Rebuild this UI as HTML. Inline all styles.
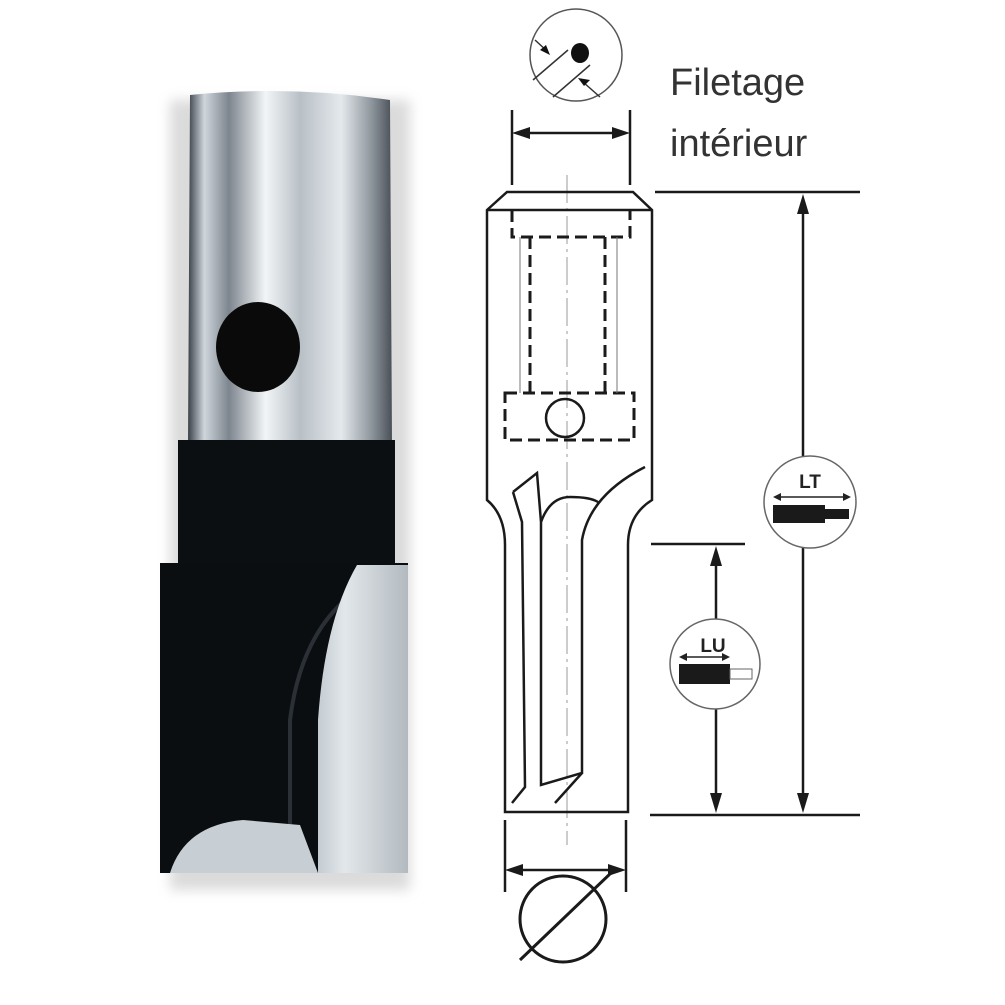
<!DOCTYPE html>
<html><head><style>
html,body{margin:0;padding:0;background:#fff;}
svg{display:block;}
</style></head><body>
<svg width="1005" height="1005" viewBox="0 0 1005 1005" xmlns="http://www.w3.org/2000/svg">
<defs>
<linearGradient id="sh" x1="0" x2="1" y1="0" y2="0">
<stop offset="0" stop-color="#3a4048"/><stop offset="0.08" stop-color="#cfd6dc"/><stop offset="0.2" stop-color="#7d858e"/><stop offset="0.38" stop-color="#f2f5f7"/><stop offset="0.55" stop-color="#b8c0c6"/><stop offset="0.75" stop-color="#e4e9ec"/><stop offset="0.9" stop-color="#8e969d"/><stop offset="1" stop-color="#4a5058"/>
</linearGradient>
<linearGradient id="bl" x1="0" x2="1" y1="0" y2="0">
<stop offset="0" stop-color="#c4ccd2"/><stop offset="0.3" stop-color="#e2e7ea"/><stop offset="1" stop-color="#b2bac0"/>
</linearGradient>
<filter id="blur"><feGaussianBlur stdDeviation="6"/></filter>
</defs>
<rect x="170" y="100" width="240" height="790" fill="#999" opacity="0.35" filter="url(#blur)"/>
<path d="M190 95 Q290 85 390 100 L392 445 L188 445 Z" fill="url(#sh)"/>
<ellipse cx="258" cy="347" rx="42" ry="45" fill="#0a0a0a"/>
<rect x="178" y="440" width="217" height="125" fill="#0c0f12"/>
<rect x="160" y="563" width="248" height="310" fill="#0b0e11"/>
<path d="M345 600 Q300 640 290 720 L290 873" stroke="#2a3036" stroke-width="4" fill="none"/>
<path d="M357 565 L408 565 L408 873 L318 873 L318 720 Q325 620 357 565 Z" fill="url(#bl)"/>
<path d="M170 873 Q185 825 243 820 L300 825 L318 873 Z" fill="#c7cfd5"/>
<line x1="567" y1="175" x2="567" y2="845" stroke="#999" stroke-width="1" stroke-dasharray="28 5 3 5"/>
<g stroke="#1a1a1a" fill="none" stroke-width="2.5">
<line x1="512" y1="110" x2="512" y2="185"/><line x1="630" y1="110" x2="630" y2="185"/>
<line x1="520" y1="133" x2="622" y2="133"/>
<path d="M507 192 L633 192 L652 210 L652 500 Q628 515 628 545 L628 812 L505 812 L505 545 Q505 515 487 500 L487 210 Z"/>
<line x1="487" y1="210" x2="652" y2="210"/>
<g stroke-dasharray="12 6" stroke-width="3">
<path d="M512 210 L512 237 L630 237 L630 210"/>
<line x1="530" y1="237" x2="530" y2="393"/><line x1="605" y1="237" x2="605" y2="393"/>
<rect x="505" y="393" width="129" height="47"/>
</g>
<line x1="520" y1="237" x2="520" y2="393" stroke-width="1" stroke="#777"/>
<line x1="617" y1="237" x2="617" y2="393" stroke-width="1" stroke="#777"/>
<circle cx="565" cy="418" r="19"/>
<path d="M513 492 L537 473 L541 522 L541 785 L582 773 L582 540 Q590 495 645 467"/>
<path d="M541 522 Q550 497 570 497 Q590 497 598 502"/>
<path d="M513 492 L522 522 L525 787 L512 803"/>
<path d="M555 803 L582 773"/>
<line x1="505" y1="820" x2="505" y2="892"/><line x1="626" y1="820" x2="626" y2="892"/>
<line x1="513" y1="870" x2="618" y2="870"/>
<circle cx="563" cy="919" r="43" stroke-width="3"/>
<line x1="520" y1="960" x2="612" y2="872" stroke-width="3"/>
<line x1="655" y1="192" x2="860" y2="192"/>
<line x1="650" y1="815" x2="860" y2="815"/>
<line x1="803" y1="205" x2="803" y2="805"/>
<line x1="651" y1="544" x2="745" y2="544"/>
<line x1="716" y1="555" x2="716" y2="805"/>
</g>
<g fill="#1a1a1a">
<path d="M512 133 L530 127 L530 139 Z"/><path d="M630 133 L612 127 L612 139 Z"/>
<path d="M505 870 L523 864 L523 876 Z"/><path d="M626 870 L608 864 L608 876 Z"/>
<path d="M803 194 L797 214 L809 214 Z"/><path d="M803 813 L797 793 L809 793 Z"/>
<path d="M716 546 L710 566 L722 566 Z"/><path d="M716 813 L710 793 L722 793 Z"/>
</g>
<circle cx="576" cy="55" r="46" fill="#fff" stroke="#555" stroke-width="1.5"/>
<g stroke="#333" stroke-width="1.5" fill="none">
<line x1="533" y1="80" x2="568" y2="50"/><line x1="553" y1="97" x2="590" y2="65"/>
<line x1="535" y1="40" x2="548" y2="52"/><line x1="600" y1="97" x2="583" y2="82"/>
</g>
<ellipse cx="580" cy="53" rx="9" ry="10" fill="#111"/>
<path d="M550 55 L540 50 L546 45 Z" fill="#111"/><path d="M578 78 L590 80 L584 86 Z" fill="#111"/>
<circle cx="810" cy="502" r="46" fill="#fff" stroke="#666" stroke-width="1.5"/>
<text x="810" y="488" text-anchor="middle" font-family="Liberation Sans, sans-serif" font-weight="bold" font-size="19" fill="#222">LT</text>
<line x1="776" y1="497" x2="848" y2="497" stroke="#222" stroke-width="1.5"/>
<path d="M773 497 L781 493 L781 501 Z M851 497 L843 493 L843 501 Z" fill="#222"/>
<rect x="773" y="505" width="52" height="18" fill="#1a1a1a"/><rect x="825" y="509" width="24" height="10" fill="#1a1a1a"/>
<circle cx="715" cy="664" r="45" fill="#fff" stroke="#666" stroke-width="1.5"/>
<text x="713" y="652" text-anchor="middle" font-family="Liberation Sans, sans-serif" font-weight="bold" font-size="19" fill="#222">LU</text>
<line x1="682" y1="657" x2="727" y2="657" stroke="#222" stroke-width="1.5"/>
<path d="M679 657 L687 653 L687 661 Z M730 657 L722 653 L722 661 Z" fill="#222"/>
<rect x="679" y="664" width="51" height="20" fill="#1a1a1a"/><rect x="730" y="669" width="22" height="10" fill="#fff" stroke="#666" stroke-width="1"/>
<text x="670" y="95" font-family="Liberation Sans, sans-serif" font-size="38" fill="#333">Filetage</text>
<text x="670" y="156" font-family="Liberation Sans, sans-serif" font-size="38" fill="#333">intérieur</text>
</svg>
</body></html>
